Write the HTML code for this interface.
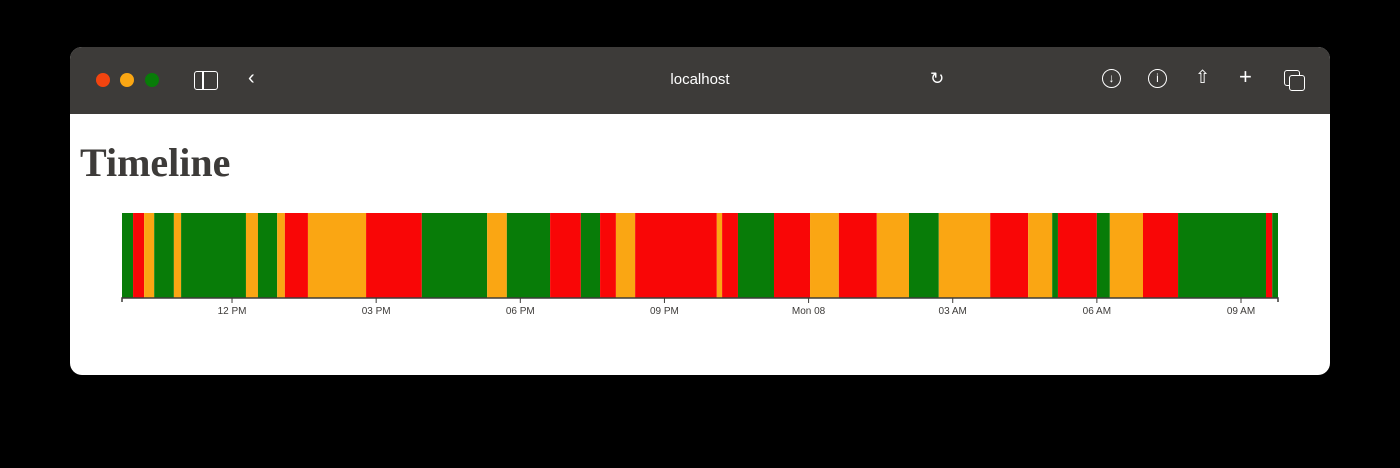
<!DOCTYPE html>
<html><head><meta charset="utf-8">
<style>
html,body{margin:0;padding:0;background:#000;width:1400px;height:468px;overflow:hidden;font-family:"Liberation Sans",sans-serif}
#win{position:absolute;left:70px;top:47px;width:1260px;height:328px;background:#fff;border-radius:12px;overflow:hidden}
#bar{position:absolute;left:0;top:0;width:1260px;height:67px;background:#3d3b39}
.dot{position:absolute;top:26px;width:14px;height:14px;border-radius:50%}
#url{position:absolute;left:0;width:1260px;top:24px;text-align:center;color:#fff;font-size:15px}
h1{position:absolute;left:10px;top:92px;margin:0;font-family:"Liberation Serif",serif;font-weight:bold;font-size:40px;color:#3d3b39}
.ic{position:absolute;color:#fff;font-size:20px;top:20px}
</style></head><body>
<div id="win">
 <div id="bar">
  <div class="dot" style="left:26px;background:#f2440f"></div>
  <div class="dot" style="left:50px;background:#faa613"></div>
  <div class="dot" style="left:75px;background:#087c08"></div>
  <div style="position:absolute;left:124px;top:24px;width:22px;height:17px;border:1.5px solid #fff;border-radius:3px"><div style="position:absolute;left:7px;top:0;width:1.5px;height:17px;background:#fff"></div></div>
  <div class="ic" style="left:178px">‹</div>
  <div id="url">localhost</div>
  <div class="ic" style="left:860px;font-size:17px;top:22px">↻</div>
  <div class="ic" style="left:1032px;top:22px;width:17px;height:17px;border:1.5px solid #fff;border-radius:50%;font-size:12px;text-align:center;line-height:17px">↓</div>
  <div class="ic" style="left:1078px;top:22px;width:17px;height:17px;border:1.5px solid #fff;border-radius:50%;font-size:12px;text-align:center;line-height:17px">i</div>
  <div class="ic" style="left:1125px;font-size:18px">⇧</div>
  <div class="ic" style="left:1169px;font-size:22px;top:17px">+</div>
  <div style="position:absolute;left:1214px;top:23px;width:14px;height:14px;border:1.5px solid #fff;border-radius:3px"><div style="position:absolute;left:4px;top:4px;width:14px;height:14px;border:1.5px solid #fff;border-radius:3px;background:#3d3b39"></div></div>
 </div>
 <h1>Timeline</h1>
</div>
<svg id="chart" width="1400" height="468" style="position:absolute;left:0;top:0"></svg>
<script>
// segment boundaries in hours since Sunday 00:00 (last value = end)
const boundaries = [9.71,9.94,10.17,10.38,10.79,10.94,12.29,12.54,12.94,13.10,13.58,14.79,15.95,17.31,17.72,18.62,19.26,19.66,19.99,20.39,22.09,22.20,22.53,23.28,24.03,24.63,25.42,26.09,26.71,27.78,28.57,29.07,29.19,30.00,30.27,30.96,31.69,33.52,33.65,33.77];
const states = ["g","r","o","g","o","g","o","g","o","r","o","r","g","o","g","r","g","r","o","r","o","r","g","r","o","r","o","g","o","r","o","g","r","g","o","r","g","r","g"];
const tickHours = [12,15,18,21,24,27,30,33];
const tickLabels = ["12 PM","03 PM","06 PM","09 PM","Mon 08","03 AM","06 AM","09 AM"];
const colors = {g:"#087c08",r:"#f90606",o:"#faa613"};
const X0=122,X1=1278,TOP=213,BOT=298;
const h0=boundaries[0],h1=boundaries[boundaries.length-1];
const x = h => X0+(h-h0)/(h1-h0)*(X1-X0);
const svg=document.getElementById('chart');
const NS="http://www.w3.org/2000/svg";
for(let i=0;i<states.length;i++){
  const r=document.createElementNS(NS,'rect');
  
  
  r.setAttribute('x',x(boundaries[i]));
  r.setAttribute('y',TOP);
  r.setAttribute('width',Math.max(0,x(boundaries[i+1])-x(boundaries[i])));
  r.setAttribute('height',BOT-TOP);
  r.setAttribute('fill',colors[states[i]]);
  svg.appendChild(r);
}
const ax=document.createElementNS(NS,'path');


ax.setAttribute('d',`M${X0},${BOT+4}V${BOT}H${X1}V${BOT+4}`);
ax.setAttribute('stroke','#3d3b39');ax.setAttribute('fill','none');ax.setAttribute('stroke-width','1.5');
svg.appendChild(ax);
tickHours.forEach((h,i)=>{
  const t=document.createElementNS(NS,'line');
  
  
  t.setAttribute('x1',x(h));t.setAttribute('x2',x(h));t.setAttribute('y1',BOT);t.setAttribute('y2',BOT+5);
  t.setAttribute('stroke','#3d3b39');
  svg.appendChild(t);
  const tx=document.createElementNS(NS,'text');
  
  
  tx.setAttribute('x',x(h));tx.setAttribute('y',BOT+16);
  tx.setAttribute('text-anchor','middle');tx.setAttribute('font-size','10');
  tx.setAttribute('font-family','Liberation Sans, sans-serif');tx.setAttribute('fill','#3d3b39');
  tx.textContent=tickLabels[i];
  svg.appendChild(tx);
});
</script>
</body></html>
